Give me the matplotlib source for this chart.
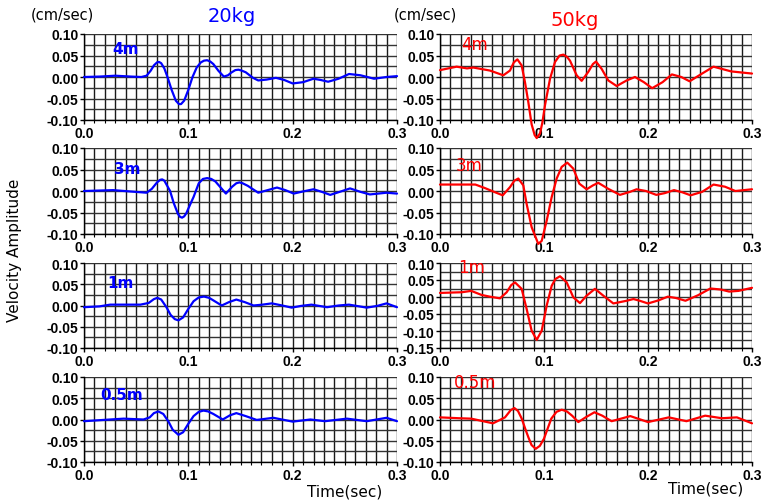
import numpy as np
import matplotlib
matplotlib.use("Agg")
import matplotlib.pyplot as plt
from matplotlib.ticker import MultipleLocator, FormatStrFormatter

# ---------------- data ----------------
t_b4 = [0, 0.015, 0.03, 0.045, 0.055, 0.06, 0.064, 0.067, 0.07, 0.072, 0.074, 0.077, 0.08, 0.084,
        0.088, 0.091, 0.093, 0.096, 0.1, 0.104, 0.108, 0.112, 0.115, 0.118, 0.121, 0.124, 0.129,
        0.134, 0.138, 0.141, 0.145, 0.148, 0.151, 0.155, 0.162, 0.167, 0.175, 0.184, 0.192, 0.2,
        0.21, 0.22, 0.227, 0.234, 0.244, 0.254, 0.265, 0.278, 0.29, 0.3]
v_b4 = [0, 0.001, 0.003, 0.001, 0.0, 0.003, 0.015, 0.027, 0.034, 0.035, 0.032, 0.02, 0.0, -0.03,
        -0.055, -0.063, -0.063, -0.055, -0.03, 0.0, 0.022, 0.034, 0.038, 0.039, 0.036, 0.03,
        0.014, 0.001, 0.004, 0.01, 0.016, 0.017, 0.015, 0.011, -0.002, -0.008, -0.006, -0.002,
        -0.007, -0.015, -0.012, -0.004, -0.007, -0.011, -0.004, 0.007, 0.004, -0.004, 0.0, 0.002]

t_r4 = [0, 0.016, 0.026, 0.032, 0.048, 0.0609, 0.0673, 0.071, 0.0744, 0.0785, 0.0817, 0.0849,
        0.0881, 0.091, 0.093, 0.0962, 0.0985, 0.101, 0.1058, 0.1106, 0.115, 0.1186, 0.122,
        0.125, 0.1314, 0.1362, 0.1426, 0.147, 0.15, 0.1554, 0.1618, 0.1699, 0.1795, 0.1875,
        0.196, 0.204, 0.214, 0.223, 0.232, 0.24, 0.252, 0.263, 0.28, 0.3]
v_r4 = [0.016, 0.024, 0.02, 0.022, 0.015, 0.004, 0.015, 0.034, 0.041, 0.027, -0.012, -0.058,
        -0.11, -0.135, -0.142, -0.131, -0.105, -0.065, -0.004, 0.035, 0.05, 0.052, 0.047,
        0.038, 0.004, -0.009, 0.012, 0.03, 0.036, 0.019, -0.008, -0.021, -0.008, 0.0,
        -0.012, -0.026, -0.012, 0.006, 0.0, -0.01, 0.008, 0.024, 0.013, 0.008]

t_r3 = [0, 0.034, 0.043, 0.052, 0.0603, 0.0673, 0.0715, 0.0753, 0.0801, 0.0833, 0.0881, 0.0945,
        0.0978, 0.1026, 0.1074, 0.1122, 0.117, 0.1224, 0.1282, 0.134, 0.141, 0.147, 0.1522,
        0.1618, 0.173, 0.1827, 0.189, 0.198, 0.208, 0.216, 0.225, 0.233, 0.241, 0.252, 0.263,
        0.274, 0.284, 0.3]
v_r3 = [0.015, 0.015, 0.007, -0.002, -0.01, 0.009, 0.024, 0.029, 0.013, -0.03, -0.084, -0.123,
        -0.116, -0.069, -0.014, 0.029, 0.056, 0.066, 0.052, 0.017, 0.004, 0.013, 0.019, 0.005,
        -0.009, -0.002, 0.004, 0.0, -0.009, -0.005, 0.002, -0.003, -0.01, -0.002, 0.015, 0.01,
        0.0, 0.004]

t_b3 = [0, 0.028, 0.06, 0.065, 0.07, 0.073, 0.075, 0.077, 0.0825, 0.086, 0.09, 0.092, 0.094,
        0.096, 0.098, 0.102, 0.105, 0.11, 0.114, 0.118, 0.122, 0.126, 0.131, 0.136, 0.142, 0.146,
        0.149, 0.152, 0.157, 0.167, 0.176, 0.185, 0.193, 0.201, 0.21, 0.22, 0.228, 0.236, 0.245,
        0.255, 0.265, 0.274, 0.29, 0.3]
v_b3 = [0, 0.002, -0.004, 0.005, 0.02, 0.026, 0.027, 0.024, 0.0, -0.028, -0.053, -0.06, -0.062,
        -0.059, -0.052, -0.03, -0.014, 0.018, 0.028, 0.03, 0.028, 0.022, 0.008, -0.006, 0.01,
        0.018, 0.02, 0.018, 0.012, -0.004, 0.002, 0.008, 0.002, -0.006, -0.001, 0.004, -0.002,
        -0.009, -0.002, 0.006, -0.002, -0.008, -0.004, -0.006]

t_b1 = [0, 0.015, 0.025, 0.054, 0.062, 0.067, 0.0703, 0.074, 0.079, 0.083, 0.087, 0.0905, 0.095,
        0.1, 0.105, 0.11, 0.115, 0.12, 0.124, 0.132, 0.139, 0.146, 0.154, 0.1625, 0.171, 0.18,
        0.19, 0.199, 0.208, 0.218, 0.233, 0.244, 0.254, 0.271, 0.281, 0.29, 0.3]
v_b1 = [-0.004, -0.002, 0.002, 0.002, 0.006, 0.015, 0.018, 0.014, -0.004, -0.022, -0.032, -0.035,
        -0.028, -0.008, 0.01, 0.019, 0.021, 0.018, 0.012, 0.0, 0.008, 0.014, 0.008, 0.0, 0.002,
        0.005, 0.0, -0.005, -0.001, 0.002, -0.004, 0.0, 0.002, -0.005, -0.001, 0.005, -0.004]

t_r1 = [0, 0.021, 0.03, 0.04, 0.048, 0.0577, 0.0641, 0.0685, 0.0721, 0.0785, 0.0833, 0.0881,
        0.093, 0.0978, 0.1026, 0.1074, 0.111, 0.1154, 0.1218, 0.1282, 0.1346, 0.141, 0.149,
        0.157, 0.1667, 0.1795, 0.186, 0.192, 0.2, 0.21, 0.219, 0.227, 0.236, 0.248, 0.26, 0.27,
        0.278, 0.287, 0.3]
v_r1 = [0.012, 0.014, 0.018, 0.006, 0.001, -0.004, 0.014, 0.035, 0.043, 0.024, -0.035, -0.099,
        -0.126, -0.099, -0.025, 0.033, 0.053, 0.061, 0.043, -0.001, -0.018, 0.004, 0.024,
        0.004, -0.019, -0.011, -0.006, -0.011, -0.019, -0.01, 0.001, -0.003, -0.011, 0.005,
        0.025, 0.022, 0.016, 0.018, 0.027]

t_b05 = [0, 0.025, 0.038, 0.057, 0.063, 0.067, 0.0713, 0.076, 0.081, 0.085, 0.0905, 0.095, 0.1,
         0.105, 0.11, 0.1145, 0.119, 0.124, 0.133, 0.14, 0.146, 0.155, 0.1655, 0.1815, 0.2,
         0.217, 0.231, 0.252, 0.271, 0.29, 0.3]
v_b05 = [-0.004, 0.0, 0.002, 0.0, 0.005, 0.015, 0.019, 0.013, -0.005, -0.024, -0.036, -0.03,
         -0.01, 0.008, 0.018, 0.021, 0.019, 0.013, 0.0, 0.01, 0.015, 0.008, -0.001, 0.004, -0.005,
         0.0, -0.004, 0.002, -0.004, 0.004, -0.004]

t_r05 = [0, 0.018, 0.03, 0.051, 0.0625, 0.068, 0.0715, 0.075, 0.0786, 0.082, 0.085, 0.088,
         0.092, 0.096, 0.1, 0.104, 0.107, 0.112, 0.117, 0.122, 0.127, 0.133, 0.14, 0.1485,
         0.156, 0.165, 0.183, 0.2, 0.22, 0.237, 0.255, 0.271, 0.2855, 0.3]
v_r05 = [0.005, 0.003, 0.002, -0.009, 0.005, 0.022, 0.027, 0.02, 0.002, -0.022, -0.042, -0.06,
         -0.069, -0.062, -0.045, -0.018, 0.002, 0.018, 0.023, 0.019, 0.009, -0.006, 0.005, 0.017,
         0.009, -0.004, 0.008, -0.006, 0.005, -0.004, 0.009, 0.003, 0.005, -0.009]

distances = ["4m", "3m", "1m", "0.5m"]
series_20kg = [(t_b4, v_b4), (t_b3, v_b3), (t_b1, v_b1), (t_b05, v_b05)]
series_50kg = [(t_r4, v_r4), (t_r3, v_r3), (t_r1, v_r1), (t_r05, v_r05)]
ylims_20kg = [(-0.10, 0.10)] * 4
ylims_50kg = [(-0.10, 0.10), (-0.10, 0.10), (-0.15, 0.10), (-0.10, 0.10)]

# ---------------- layout ----------------
W, H = 770, 502
fig = plt.figure(figsize=(W / 100, H / 100), dpi=100)

rows_px = [(35, 121), (149, 235), (264, 349), (378, 463)]
cols_px = [(84, 397), (440, 752)]
# panel label positions (axes fraction), per column / row
label_pos = [[(0.089, 0.826), (0.096, 0.767), (0.074, 0.773), (0.053, 0.79)],
             [(0.067, 0.884), (0.05, 0.805), (0.057, 0.95), (0.043, 0.94)]]

label_family = "DejaVu Sans"


def make_axes(x0, x1, y0, y1):
    return fig.add_axes([x0 / W, 1 - y1 / H, (x1 - x0) / W, (y1 - y0) / H])


for col, (series, ylims, color) in enumerate([(series_20kg, ylims_20kg, "#0000ff"),
                                              (series_50kg, ylims_50kg, "#ff0000")]):
    for row in range(4):
        x0, x1 = cols_px[col]
        y0, y1 = rows_px[row]
        ax = make_axes(x0, x1, y0, y1)
        t, v = series[row]
        ax.set_xlim(0, 0.3)
        ax.set_ylim(*ylims[row])
        ax.xaxis.set_major_locator(MultipleLocator(0.1))
        ax.xaxis.set_minor_locator(MultipleLocator(0.01))
        ax.yaxis.set_major_locator(MultipleLocator(0.05))
        ax.yaxis.set_minor_locator(MultipleLocator(0.025))
        ax.xaxis.set_major_formatter(FormatStrFormatter("%.1f"))
        ax.yaxis.set_major_formatter(FormatStrFormatter("%.2f"))
        ax.grid(True, which="both", axis="x", color="#1a1a1a", lw=1.0)
        ax.grid(True, which="both", axis="y", color="#333333", lw=1.0)
        ax.set_axisbelow(True)
        for s in ["top", "right"]:
            ax.spines[s].set_visible(False)
        for s in ["left", "bottom"]:
            ax.spines[s].set_linewidth(1.0)
        ax.tick_params(axis="both", which="major", length=3, width=1, pad=1)
        ax.tick_params(axis="x", which="minor", length=2, width=0.8)
        ax.tick_params(axis="y", which="minor", length=0)
        for lab in ax.get_xticklabels() + ax.get_yticklabels():
            lab.set_fontfamily("Liberation Sans")
            lab.set_fontweight("bold")
            lab.set_fontsize(10)
        ax.plot(t, v, color=color, lw=1.6, clip_on=False, zorder=5,
                solid_joinstyle="round", solid_capstyle="round")
        lx, ly = label_pos[col][row]
        ax.text(lx, ly, distances[row], transform=ax.transAxes, color=color,
                fontsize=11 if col == 0 else 12, family=label_family,
                fontweight="bold" if col == 0 else "normal",
                ha="left", va="center", zorder=6)

# ---------------- texts ----------------
fig.text(62 / W, 1 - 15 / H, "(cm/sec)", fontsize=10.5, family=label_family, ha="center", va="center")
fig.text(425 / W, 1 - 15 / H, "(cm/sec)", fontsize=10.5, family=label_family, ha="center", va="center")
fig.text(232 / W, 1 - 17 / H, "20kg", fontsize=14, family=label_family, color="#0000ff",
         ha="center", va="center")
fig.text(575 / W, 1 - 20 / H, "50kg", fontsize=14, family=label_family, color="#ff0000",
         ha="center", va="center")
fig.text(15 / W, 1 - 250 / H, "Velocity Amplitude", fontsize=11, family=label_family,
         rotation=90, ha="center", va="center")
fig.text(345 / W, 1 - 492 / H, "Time(sec)", fontsize=11, family=label_family, ha="center", va="center")
fig.text(706 / W, 1 - 489 / H, "Time(sec)", fontsize=11, family=label_family, ha="center", va="center")

fig.savefig("out.png", dpi=100)
